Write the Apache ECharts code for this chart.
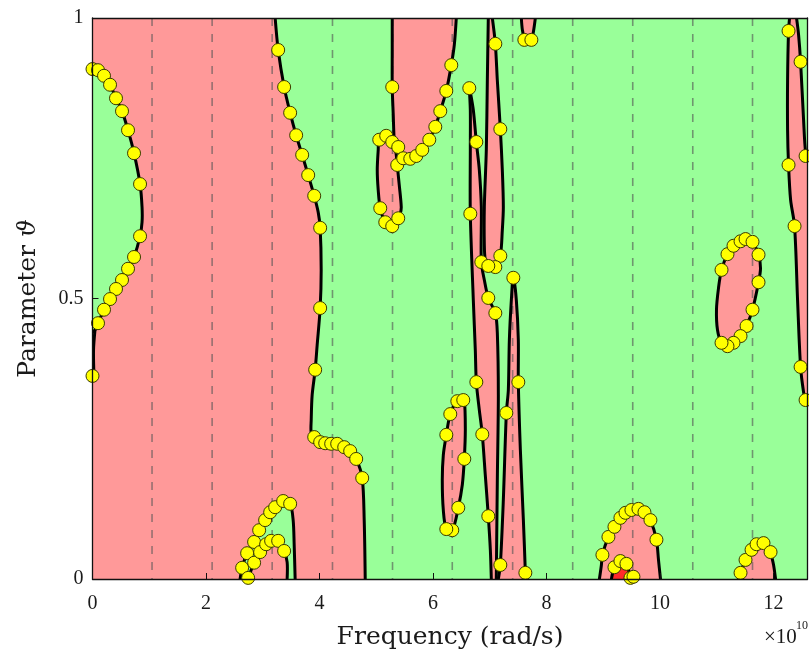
<!DOCTYPE html>
<html>
<head>
<meta charset="utf-8">
<title>Stability map</title>
<script src="https://cdn.jsdelivr.net/npm/echarts@6/dist/echarts.min.js"></script>
<style>
  html, body { margin: 0; padding: 0; background: #ffffff; }
  #chart { width: 809px; height: 655px; }
</style>
</head>
<body>
<div id="chart"></div>
<script>
// Frequency axis in units of 1e10 rad/s, parameter axis 0..1
const freqMax = 12.6;
const freqTicks = [0, 2, 4, 6, 8, 10, 12];
const thetaTicks = [0, 0.5, 1];

// Dashed reference frequencies
const refFreqs = [1.049, 2.108, 3.166, 4.229, 5.287, 6.340, 7.404, 8.462, 9.520, 10.578, 11.631];

// Boundary curves, each point is [frequency, theta]
const edgeLeftLobe = [[0,0.909],[0.097,0.907],[0.203,0.897],[0.309,0.881],[0.414,0.857],[0.520,0.834],[0.626,0.800],[0.732,0.759],[0.838,0.704],[0.873,0.663],[0.873,0.636],[0.838,0.611],[0.732,0.574],[0.626,0.553],[0.520,0.533],[0.414,0.517],[0.309,0.499],[0.203,0.480],[0.097,0.456],[0.044,0.444],[0,0.440]];
const edgeLeftTail = [[0.044,0.444],[0.018,0.408],[0.026,0.362]];
const edgeMain = [[3.219,1.000],[3.272,0.943],[3.377,0.877],[3.483,0.831],[3.589,0.791],[3.695,0.756],[3.801,0.720],[3.907,0.683],[3.977,0.654],[4.012,0.626],[4.030,0.551],[4.012,0.483],[3.959,0.417],[3.924,0.373],[3.871,0.328],[3.854,0.283],[3.854,0.260],[3.907,0.253],[4.012,0.244],[4.101,0.242],[4.206,0.241],[4.312,0.241],[4.436,0.235],[4.541,0.228],[4.647,0.214],[4.753,0.180],[4.788,0.105],[4.806,0]];
const edgeArcOuter = [[2.601,0],[2.637,0.020],[2.725,0.046],[2.848,0.066],[2.937,0.087],[3.042,0.105],[3.131,0.119],[3.219,0.128],[3.360,0.139],[3.483,0.134],[3.536,0.105],[3.554,0.061],[3.571,0]];
const edgeArcInner = [[3.430,0],[3.430,0.030],[3.377,0.050],[3.272,0.068],[3.148,0.068],[3.060,0.062],[2.954,0.048],[2.848,0.029],[2.743,0.002],[2.725,0]];
const edgeLoop = [[5.282,1.000],[5.282,0.943],[5.282,0.877],[5.300,0.827],[5.317,0.783],[5.353,0.756],[5.370,0.738],[5.406,0.702],[5.441,0.663],[5.423,0.651],[5.388,0.643],[5.282,0.629],[5.159,0.636],[5.071,0.661],[5.035,0.693],[5.018,0.729],[5.035,0.765],[5.053,0.783],[5.176,0.790],[5.282,0.779],[5.388,0.770],[5.476,0.750],[5.600,0.749],[5.705,0.754],[5.811,0.765],[5.935,0.783],[6.041,0.806],[6.129,0.834],[6.235,0.870],[6.323,0.916],[6.376,0.952],[6.411,1.000]];
const edgeStripA = [[6.640,0.875],[6.658,0.836],[6.658,0.765],[6.658,0.651],[6.711,0.497],[6.746,0.408],[6.764,0.351],[6.817,0.301],[6.869,0.258],[6.922,0.185],[6.975,0.112],[7.011,0.052],[7.028,0]];
const edgeStripB = [[6.640,0.875],[6.658,0.868],[6.711,0.836],[6.764,0.779],[6.817,0.729],[6.852,0.663],[6.852,0.565],[6.905,0.533],[6.975,0.501],[7.099,0.474],[7.134,0.439],[7.152,0.328],[7.134,0.176],[7.116,0]];
const edgeSpike = [[6.975,1],[6.958,0.889],[6.940,0.765],[6.905,0.663],[6.905,0.595],[6.922,0.569],[6.975,0.558],[7.099,0.556],[7.187,0.576],[7.222,0.622],[7.240,0.663],[7.222,0.729],[7.187,0.802],[7.134,0.889],[7.099,0.954],[7.046,1]];
const edgeNeedle = [[7.152,0],[7.187,0.025],[7.240,0.141],[7.293,0.296],[7.328,0.337],[7.346,0.426],[7.381,0.497],[7.416,0.540],[7.469,0.497],[7.504,0.426],[7.504,0.351],[7.540,0.230],[7.593,0.105],[7.628,0.011],[7.628,0]];
const edgeCap = [[7.557,1],[7.575,0.979],[7.610,0.964],[7.663,0.959],[7.734,0.961],[7.769,0.975],[7.804,1]];
const edgeLensMid = [[6.235,0.257],[6.182,0.221],[6.164,0.176],[6.182,0.123],[6.235,0.089],[6.340,0.086],[6.446,0.127],[6.517,0.168],[6.552,0.214],[6.570,0.266],[6.552,0.319],[6.499,0.324],[6.429,0.319],[6.305,0.294]];
const edgeLensRight = [[11.085,0.551],[11.190,0.579],[11.296,0.594],[11.420,0.602],[11.508,0.606],[11.631,0.601],[11.737,0.578],[11.772,0.554],[11.737,0.529],[11.631,0.480],[11.526,0.451],[11.420,0.433],[11.296,0.421],[11.190,0.415],[11.085,0.421],[11.014,0.444],[10.996,0.480],[11.032,0.519]];
const edgeRimLeft = [[12.284,1],[12.266,0.977],[12.249,0.889],[12.249,0.800],[12.266,0.738],[12.302,0.676],[12.372,0.629],[12.425,0.497],[12.478,0.378],[12.531,0.333],[12.566,0.319],[12.6,0.310]];
const edgeRimRight = [[12.6,0.757],[12.566,0.761],[12.531,0.818],[12.478,0.922],[12.443,0.970],[12.407,1]];
const edgeDome = [[8.933,0],[8.968,0.025],[8.986,0.043],[9.092,0.075],[9.198,0.093],[9.303,0.109],[9.392,0.118],[9.497,0.123],[9.621,0.125],[9.727,0.119],[9.832,0.105],[9.938,0.070],[9.974,0.034],[10.009,0]];
const edgeCore = [[9.145,0],[9.198,0.021],[9.303,0.032],[9.409,0.027],[9.480,0.002],[9.490,0]];
const edgeHump = [[11.384,0],[11.420,0.011],[11.508,0.034],[11.614,0.052],[11.702,0.062],[11.825,0.064],[11.914,0.059],[11.949,0.048],[12.002,0.025],[12.037,0]];

// Marked crossing points
const dotsLeft = [[0,0.909],[0.097,0.907],[0.203,0.897],[0.309,0.881],[0.414,0.857],[0.520,0.834],[0.626,0.800],[0.732,0.759],[0.838,0.704],[0.838,0.611],[0.732,0.574],[0.626,0.553],[0.520,0.533],[0.414,0.517],[0.309,0.499],[0.203,0.480],[0.097,0.456],[0,0.362]];
const dotsMain = [[3.272,0.943],[3.377,0.877],[3.483,0.831],[3.589,0.791],[3.695,0.756],[3.801,0.720],[3.907,0.683],[4.012,0.626],[4.012,0.483],[3.924,0.373],[3.907,0.253],[4.012,0.244],[4.101,0.242],[4.206,0.241],[4.312,0.241],[4.436,0.235],[4.541,0.228],[4.647,0.214],[4.753,0.180]];
const dotsArc = [[2.637,0.020],[2.725,0.046],[2.848,0.066],[2.937,0.087],[3.042,0.105],[3.131,0.119],[3.219,0.128],[3.360,0.139],[3.483,0.134],[2.743,0.002],[2.848,0.029],[2.954,0.048],[3.060,0.062],[3.148,0.068],[3.272,0.068],[3.377,0.050]];
const dotsLoop = [[5.282,0.877],[5.053,0.783],[5.176,0.790],[5.282,0.779],[5.388,0.770],[5.370,0.738],[5.476,0.750],[5.600,0.749],[5.705,0.754],[5.811,0.765],[5.935,0.783],[6.041,0.806],[6.129,0.834],[6.235,0.870],[6.323,0.916],[5.071,0.661],[5.159,0.636],[5.282,0.629],[5.388,0.643]];
const dotsStrips = [[6.640,0.875],[6.764,0.779],[6.658,0.651],[6.764,0.351],[6.869,0.258],[6.975,0.112],[6.975,0.501],[7.099,0.474],[6.852,0.565],[7.099,0.954],[7.187,0.802],[7.187,0.576],[7.099,0.556],[6.975,0.558],[7.416,0.537],[7.504,0.351],[7.293,0.296],[7.187,0.025],[7.628,0.011],[7.610,0.961],[7.734,0.961]];
const dotsLensMid = [[6.235,0.257],[6.305,0.294],[6.429,0.317],[6.534,0.319],[6.552,0.214],[6.446,0.127],[6.340,0.087],[6.235,0.089]];
const dotsLensRight = [[11.085,0.551],[11.190,0.579],[11.296,0.594],[11.420,0.602],[11.508,0.606],[11.631,0.601],[11.737,0.578],[11.737,0.529],[11.631,0.480],[11.526,0.451],[11.420,0.433],[11.296,0.421],[11.190,0.415],[11.085,0.421]];
const dotsRim = [[12.266,0.977],[12.478,0.922],[12.266,0.738],[12.566,0.754],[12.372,0.629],[12.478,0.378],[12.566,0.319]];
const dotsDome = [[8.986,0.043],[9.092,0.075],[9.198,0.093],[9.303,0.109],[9.392,0.118],[9.497,0.123],[9.621,0.125],[9.727,0.119],[9.832,0.105],[9.938,0.070],[9.198,0.021],[9.303,0.032],[9.409,0.027],[9.480,0.002],[9.533,0.004]];
const dotsHump = [[11.420,0.011],[11.508,0.034],[11.614,0.052],[11.702,0.062],[11.825,0.064],[11.949,0.048]];

const RED = '#FF9999';
const GREEN = '#99FF99';
const CORE = '#FF2B2B';
const SERIF = 'DejaVu Serif';
const TICKFONT = 'Liberation Serif';

// Filled regions (green is the plot background)
const redRegions = [
  [[0, 1], ...edgeMain, [0, 0]],
  edgeLoop,
  [...edgeStripA, ...edgeStripB.slice().reverse()],
  edgeSpike,
  edgeNeedle,
  edgeCap,
  [...edgeRimLeft, ...edgeRimRight],
  edgeDome,
  edgeHump
];
const greenRegions = [
  edgeLeftLobe,
  [...edgeArcOuter, ...edgeArcInner]
];
const closedLenses = [edgeLensMid, edgeLensRight];
const openCurves = [edgeLeftLobe, edgeLeftTail, edgeMain, edgeArcOuter, edgeArcInner, edgeLoop,
  edgeStripA, edgeStripB, edgeSpike, edgeNeedle, edgeCap, edgeRimLeft, edgeRimRight,
  edgeDome, edgeCore, edgeHump];
const allDots = [].concat(dotsLeft, dotsMain, dotsArc, dotsLoop, dotsStrips, dotsLensMid,
  dotsLensRight, dotsRim, dotsDome, dotsHump);

function layer(shapes, z, build) {
  return {
    type: 'custom', coordinateSystem: 'cartesian2d', clip: true, silent: true, z: z,
    data: shapes.map((s) => s[0]),
    renderItem: (params, api) => build(shapes[params.dataIndex], api)
  };
}
const toPx = (pts, api) => pts.map(p => api.coord(p));

const chart = echarts.init(document.getElementById('chart'), null, { renderer: 'canvas' });

const axisText = { color: '#1a1a1a', fontFamily: TICKFONT, fontSize: 20 };
const nameText = { color: '#1a1a1a', fontFamily: SERIF, fontSize: 25 };
const frameLine = { show: true, onZero: false, lineStyle: { color: '#111', width: 1.3 } };

chart.setOption({
  animation: false,
  backgroundColor: '#ffffff',
  grid: { left: 92.5, top: 18, right: 1.5, bottom: 76, show: true, backgroundColor: GREEN, borderWidth: 0 },
  xAxis: [{
    type: 'value', min: 0, max: freqMax, interval: 2, z: 20,
    axisLine: frameLine,
    axisTick: { inside: true, length: 6, lineStyle: { color: '#111', width: 1 } },
    axisLabel: Object.assign({ margin: 15, showMaxLabel: false,
      formatter: v => (freqTicks.indexOf(v) >= 0 ? String(v) : '') }, axisText),
    splitLine: { show: false },
    name: 'Frequency (rad/s)', nameLocation: 'middle', nameGap: 46, nameTextStyle: nameText
  }, {
    type: 'value', position: 'top', min: 0, max: freqMax, interval: 2, z: 20,
    axisLine: frameLine, axisTick: { show: false }, axisLabel: { show: false }, splitLine: { show: false }
  }],
  yAxis: [{
    type: 'value', min: 0, max: 1, interval: 0.5, z: 20,
    axisLine: frameLine,
    axisTick: { inside: true, length: 6, lineStyle: { color: '#111', width: 1 } },
    axisLabel: Object.assign({ margin: 9,
      formatter: v => (thetaTicks.indexOf(v) >= 0 ? String(v) : '') }, axisText),
    splitLine: { show: false },
    name: 'Parameter {i|ϑ}', nameLocation: 'middle', nameGap: 52,
    nameTextStyle: Object.assign({ rich: { i: { fontFamily: SERIF, fontSize: 25, fontStyle: 'italic', color: '#1a1a1a' } } }, nameText)
  }, {
    type: 'value', position: 'right', min: 0, max: 1, interval: 0.5, z: 20,
    axisLine: frameLine, axisTick: { show: false }, axisLabel: { show: false }, splitLine: { show: false }
  }],
  graphic: [
    { type: 'text', left: 764, top: 627, z: 30,
      style: { text: '×10', fontFamily: TICKFONT, fontSize: 21, fill: '#1a1a1a' } },
    { type: 'text', left: 796, top: 620, z: 30,
      style: { text: '10', fontFamily: TICKFONT, fontSize: 12, fill: '#1a1a1a' } }
  ],
  series: [
    layer(redRegions, 1, (pts, api) => ({
      type: 'polygon', shape: { points: toPx(pts, api) }, style: { fill: RED, stroke: null }
    })),
    layer(greenRegions, 2, (pts, api) => ({
      type: 'polygon', shape: { points: toPx(pts, api) }, style: { fill: GREEN, stroke: null }
    })),
    layer([edgeCore], 3, (pts, api) => ({
      type: 'polygon', shape: { points: toPx(pts, api), smooth: 0.3 }, style: { fill: CORE, stroke: null }
    })),
    layer(closedLenses, 3, (pts, api) => ({
      type: 'polygon', shape: { points: toPx(pts, api), smooth: 0.3 },
      style: { fill: RED, stroke: null }
    })),
    {
      type: 'custom', coordinateSystem: 'cartesian2d', clip: true, silent: true, z: 4,
      data: refFreqs.map(f => [f, 0]),
      renderItem: (params, api) => {
        const f = api.value(0);
        const a = api.coord([f, 1]);
        const b = api.coord([f, 0]);
        return { type: 'line', shape: { x1: a[0], y1: a[1], x2: b[0], y2: b[1] },
          style: { stroke: 'rgba(85,85,85,0.62)', lineWidth: 1.6, lineDash: [8, 8] } };
      }
    },
    layer(openCurves, 5, (pts, api) => ({
      type: 'polyline', shape: { points: toPx(pts, api), smooth: 0.3 },
      style: { stroke: '#000', lineWidth: 3, fill: null, lineJoin: 'round', lineCap: 'round' }
    })),
    layer(closedLenses, 5, (pts, api) => ({
      type: 'polygon', shape: { points: toPx(pts, api), smooth: 0.3 },
      style: { stroke: '#000', lineWidth: 3, fill: null, lineJoin: 'round' }
    })),
    {
      type: 'scatter', z: 6, clip: false, silent: true,
      data: allDots,
      symbol: 'circle', symbolSize: 13,
      itemStyle: { color: '#FFFF00', borderColor: '#3a3a00', borderWidth: 1, opacity: 1 }
    }
  ]
});
</script>
</body>
</html>
